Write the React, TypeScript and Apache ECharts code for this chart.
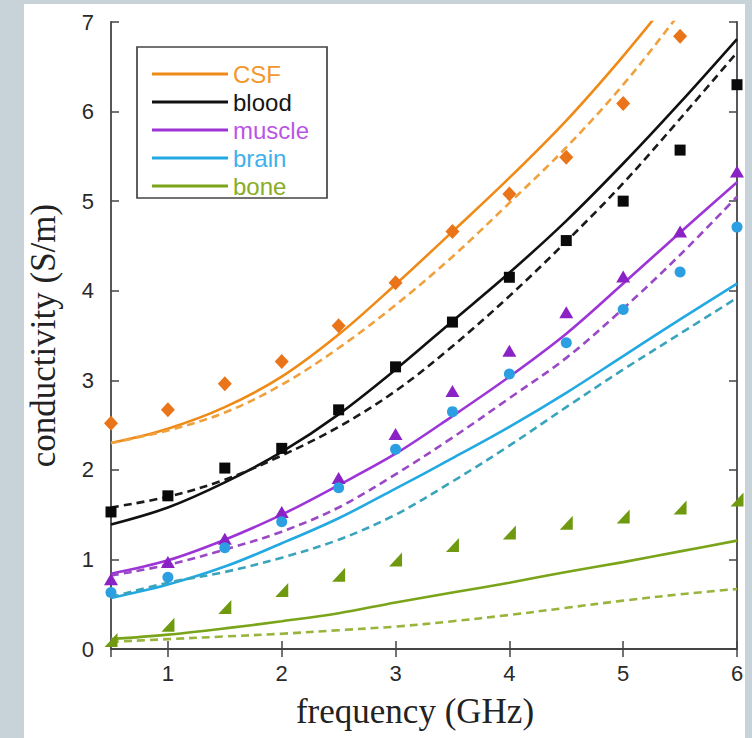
import React, { useEffect, useRef } from "react";
import * as echarts from "echarts";

const freqs = [0.5, 1, 1.5, 2, 2.5, 3, 3.5, 4, 4.5, 5, 5.5, 6];

// measured points
const csfMeas = [2.52, 2.67, 2.96, 3.21, 3.61, 4.09, 4.66, 5.08, 5.49, 6.09, 6.84];
const bloodMeas = [1.53, 1.71, 2.02, 2.24, 2.67, 3.15, 3.65, 4.15, 4.56, 5.0, 5.57, 6.3];
const muscleMeas = [0.78, 0.97, 1.23, 1.53, 1.91, 2.4, 2.88, 3.33, 3.76, 4.16, 4.66, 5.33];
const brainMeas = [0.63, 0.8, 1.13, 1.42, 1.8, 2.23, 2.65, 3.07, 3.42, 3.79, 4.21, 4.71];
const boneMeas = [0.1, 0.27, 0.47, 0.66, 0.83, 1.0, 1.16, 1.3, 1.41, 1.48, 1.58, 1.67];

// model curves (solid / dashed)
const csfSolid = [2.3, 2.46, 2.7, 3.04, 3.51, 4.07, 4.66, 5.26, 5.9, 6.62, 7.4];
const csfDashed = [2.3, 2.44, 2.64, 2.95, 3.36, 3.84, 4.38, 4.98, 5.6, 6.3, 7.1, 7.9];
const bloodSolid = [1.39, 1.58, 1.86, 2.2, 2.62, 3.12, 3.66, 4.2, 4.78, 5.42, 6.1, 6.81];
const bloodDashed = [1.58, 1.7, 1.89, 2.16, 2.48, 2.88, 3.38, 3.94, 4.55, 5.2, 5.92, 6.66];
const muscleSolid = [0.84, 0.99, 1.22, 1.5, 1.83, 2.18, 2.6, 3.04, 3.52, 4.08, 4.65, 5.21];
const muscleDashed = [0.82, 0.94, 1.11, 1.31, 1.58, 1.95, 2.36, 2.8, 3.25, 3.8, 4.4, 5.05];
const brainSolid = [0.57, 0.72, 0.92, 1.18, 1.46, 1.79, 2.13, 2.48, 2.86, 3.27, 3.68, 4.08];
const brainDashed = [0.58, 0.74, 0.86, 1.02, 1.22, 1.5, 1.87, 2.27, 2.7, 3.12, 3.52, 3.92];
const boneSolid = [0.11, 0.16, 0.23, 0.31, 0.4, 0.52, 0.63, 0.74, 0.86, 0.97, 1.09, 1.21];
const boneDashed = [0.08, 0.11, 0.14, 0.17, 0.21, 0.25, 0.31, 0.38, 0.46, 0.54, 0.61, 0.67];

const tissues = ["CSF", "blood", "muscle", "brain", "bone"];
const yTicks = [0, 1, 2, 3, 4, 5, 6, 7];

const pairs = (vals: number[]) => vals.map((v, i) => [freqs[i], v]);

export default function App() {
  const ref = useRef<HTMLDivElement>(null);
  useEffect(() => {
    if (!ref.current) return;
    const chart = echarts.init(ref.current, undefined, { renderer: "svg" });
    const sans = "Liberation Sans, Arial, Helvetica, sans-serif";
    const serif = "Liberation Serif, Times New Roman, serif";
    const axisColor = "#454545";

    const lineSeries = (name: string, vals: number[], color: string, dashed: boolean) => ({
      name,
      type: "line",
      data: pairs(vals),
      showSymbol: false,
      symbol: "none",
      smooth: 0.35,
      clip: true,
      z: 2,
      lineStyle: { color, width: 2.6, type: dashed ? [8, 5] : "solid" },
      itemStyle: { color },
    });
    const scatterSeries = (name: string, vals: number[], color: string, symbol: string, size: any) => ({
      name,
      type: "scatter",
      data: pairs(vals),
      symbol,
      symbolSize: size,
      itemStyle: { color, opacity: 1 },
      z: 3,
    });

    const colors = {
      csf: "#ef8a17",
      csfD: "#f0a03c",
      csfM: "#e9741a",
      blood: "#111111",
      bloodD: "#1a1a1a",
      bloodM: "#0a0a0a",
      muscle: "#9d35d6",
      muscleD: "#9a48c6",
      muscleM: "#8a22c6",
      brain: "#22a9e2",
      brainD: "#3aa4bc",
      brainM: "#2c9fe2",
      bone: "#7aa41a",
      boneD: "#98b43a",
      boneM: "#6f9a10",
    };
    const legendText = ["#f0982e", "#151515", "#bb55e6", "#3fb0ee", "#88ac26"];

    const option: any = {
      animation: false,
      backgroundColor: "transparent",
      grid: { left: 111, right: 15, top: 22, bottom: 89, containLabel: false },
      xAxis: [
        {
          type: "value",
          min: 0.5,
          max: 6,
          splitNumber: 5,
          position: "bottom",
          axisLine: { show: true, lineStyle: { color: axisColor, width: 1.8 } },
          axisTick: { show: true, inside: true, length: 8, lineStyle: { color: axisColor, width: 1.5 } },
          axisLabel: { showMinLabel: false, color: "#2a2a2a", fontSize: 22, fontFamily: sans, margin: 13 },
          splitLine: { show: false },
          name: "frequency (GHz)",
          nameLocation: "middle",
          nameGap: 45,
          nameTextStyle: { color: "#222", fontSize: 35, fontFamily: serif, padding: [0, 18, 0, 0] },
        },
        {
          type: "value",
          min: 0.5,
          max: 6,
          splitNumber: 5,
          position: "top",
          axisLine: { show: true, lineStyle: { color: axisColor, width: 1.8 } },
          axisTick: { show: true, inside: true, length: 8, lineStyle: { color: axisColor, width: 1.5 } },
          axisLabel: { show: false },
          splitLine: { show: false },
        },
      ],
      yAxis: [
        {
          type: "value",
          min: yTicks[0],
          max: yTicks[yTicks.length - 1],
          interval: 1,
          position: "left",
          axisLine: { show: true, lineStyle: { color: axisColor, width: 1.8 } },
          axisTick: { show: true, inside: true, length: 8, lineStyle: { color: axisColor, width: 1.5 } },
          axisLabel: { color: "#2a2a2a", fontSize: 22, fontFamily: sans, margin: 17 },
          splitLine: { show: false },
          name: "conductivity (S/m)",
          nameLocation: "middle",
          nameGap: 50,
          nameRotate: 90,
          nameTextStyle: { color: "#222", fontSize: 35, fontFamily: serif },
        },
        {
          type: "value",
          min: yTicks[0],
          max: yTicks[yTicks.length - 1],
          interval: 1,
          position: "right",
          axisLine: { show: true, lineStyle: { color: axisColor, width: 1.8 } },
          axisTick: { show: true, inside: true, length: 8, lineStyle: { color: axisColor, width: 1.5 } },
          axisLabel: { show: false },
          splitLine: { show: false },
        },
      ],
      legend: {
        show: true,
        orient: "vertical",
        left: 152,
        top: 62,
        padding: 0,
        itemWidth: 76,
        itemHeight: 3,
        itemGap: 4,
        icon: "rect",
        selectedMode: false,
        textStyle: { fontSize: 24, fontFamily: sans, lineHeight: 22 },
        data: tissues.map((t, i) => ({ name: t, textStyle: { color: legendText[i] } })),
      },
      graphic: [
        {
          type: "rect",
          shape: { x: 137, y: 47, width: 190, height: 151 },
          style: { fill: "transparent", stroke: "#444", lineWidth: 1.7 },
          z: 1,
        },
      ],
      series: [
        lineSeries("CSF", csfSolid, colors.csf, false),
        lineSeries("CSF model 2", csfDashed, colors.csfD, true),
        lineSeries("blood", bloodSolid, colors.blood, false),
        lineSeries("blood model 2", bloodDashed, colors.bloodD, true),
        lineSeries("muscle", muscleSolid, colors.muscle, false),
        lineSeries("muscle model 2", muscleDashed, colors.muscleD, true),
        lineSeries("brain", brainSolid, colors.brain, false),
        lineSeries("brain model 2", brainDashed, colors.brainD, true),
        lineSeries("bone", boneSolid, colors.bone, false),
        lineSeries("bone model 2", boneDashed, colors.boneD, true),
        scatterSeries("CSF measured", csfMeas, colors.csfM, "diamond", [14, 15]),
        scatterSeries("blood measured", bloodMeas, colors.bloodM, "rect", 11),
        scatterSeries("muscle measured", muscleMeas, colors.muscleM, "triangle", [14, 12]),
        scatterSeries("brain measured", brainMeas, colors.brainM, "circle", 11),
        scatterSeries("bone measured", boneMeas, colors.boneM, "path://M0,10L10,0L10,10Z", [13, 14]),
      ],
    };
    chart.setOption(option);
    return () => chart.dispose();
  }, []);

  return (
    <div style={{ position: "fixed", left: 0, top: 0, width: 752, height: 738, background: "#c8d2d9", overflow: "hidden" }}>
      <div style={{ position: "absolute", left: 24, top: 4, width: 721, height: 734, background: "#ffffff" }} />
      <div ref={ref} style={{ position: "absolute", left: 0, top: 0, width: 752, height: 738 }} />
    </div>
  );
}
